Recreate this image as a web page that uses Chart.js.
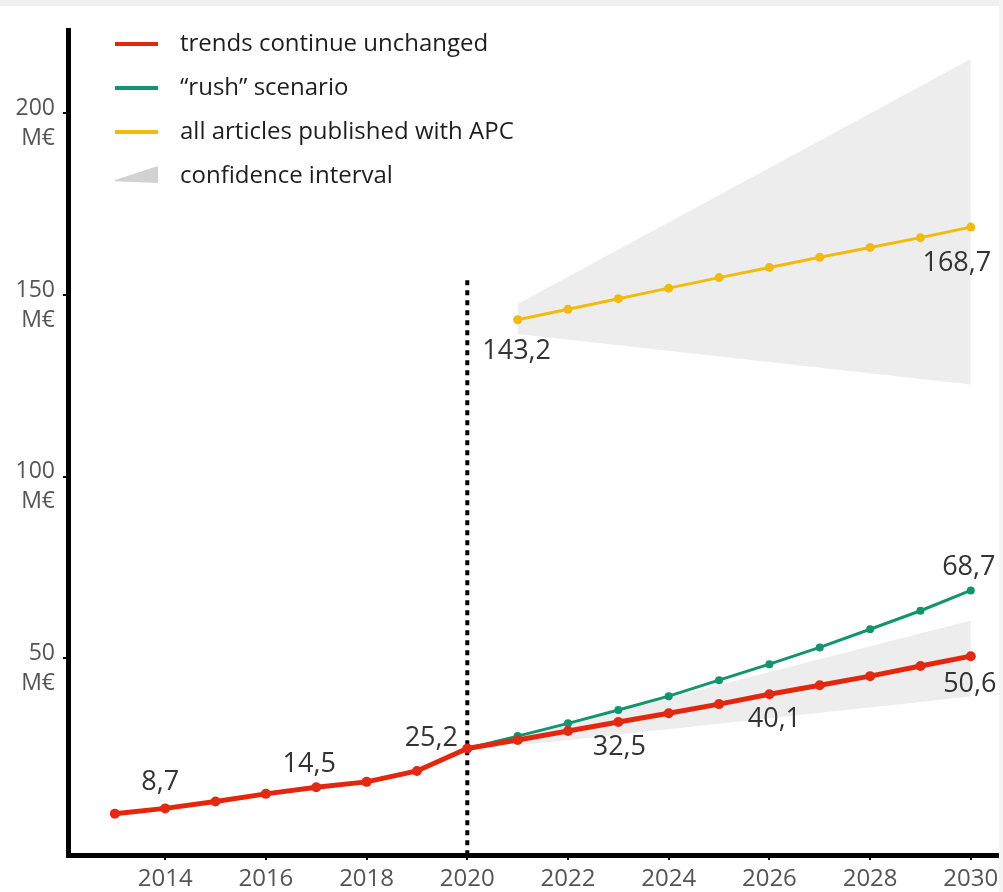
<!DOCTYPE html>
<html>
<head>
    <title>APC spending projection</title>
    <script src="https://cdn.jsdelivr.net/npm/chart.js"></script>
    <style>
        body { margin: 0; background: #fff; font-family: "Open Sans", Arial, sans-serif; }
        .wrap { position: relative; width: 1003px; height: 892px; background: #fff; overflow: hidden; }
        .topbar { position: absolute; left: 0; top: 0; width: 1003px; height: 6px; background: #f0f0f0; }
        .rightbar { position: absolute; right: 0; top: 0; width: 4px; height: 892px; background: #f3f3f3; }
        .chart-container { position: absolute; left: 0; top: 0; width: 1003px; height: 892px; }
        .legend { position: absolute; left: 115px; top: 25px; }
        .row { position: relative; height: 44px; font-size: 24px; color: #1e1e1e; }
        .row span.txt { position: absolute; left: 65px; top: 0; line-height: 34px; white-space: nowrap; }
        .row span.sw { position: absolute; left: 0; top: 17px; width: 43px; height: 4px; }
        .row span.wedge { position: absolute; left: 0; top: 9px; width: 43px; height: 17px; background: #d2d2d2;
            clip-path: polygon(0 82%, 100% 0, 100% 100%, 0 90%); }
    </style>
</head>
<body>
<div class="wrap">
    <div class="chart-container"><canvas id="apcChart"></canvas></div>
    <div class="topbar"></div>
    <div class="rightbar"></div>
    <div class="legend">
        <div class="row"><span class="sw" style="background:#e3260e"></span><span class="txt">trends continue unchanged</span></div>
        <div class="row"><span class="sw" style="background:#13946e"></span><span class="txt">“rush” scenario</span></div>
        <div class="row"><span class="sw" style="background:#f1bb0c"></span><span class="txt">all articles published with APC</span></div>
        <div class="row"><span class="wedge"></span><span class="txt">confidence interval</span></div>
    </div>
</div>

<script>
    // M€ per year
    const redYears = [2013, 2014, 2015, 2016, 2017, 2018, 2019, 2020, 2021, 2022, 2023, 2024, 2025, 2026, 2027, 2028, 2029, 2030];
    const redValues = [7.2, 8.7, 10.6, 12.7, 14.5, 16.0, 19.0, 25.2, 27.5, 30.0, 32.5, 34.9, 37.4, 40.1, 42.6, 45.1, 47.9, 50.6];

    const greenYears = [2020, 2021, 2022, 2023, 2024, 2025, 2026, 2027, 2028, 2029, 2030];
    const greenValues = [25.2, 28.6, 32.1, 35.8, 39.6, 44.0, 48.4, 53.0, 58.0, 63.1, 68.7];

    const yellowYears = [2021, 2022, 2023, 2024, 2025, 2026, 2027, 2028, 2029, 2030];
    const yellowValues = [143.2, 146.1, 149.0, 151.9, 154.8, 157.6, 160.4, 163.1, 165.8, 168.7];

    // confidence intervals (start and end of the wedge)
    const bandYears = [2021, 2030];
    const redBandLow = [26.0, 39.5];
    const redBandHigh = [28.5, 60.4];
    const yellowBandLow = [139.3, 125.4];
    const yellowBandHigh = [147.5, 215.0];

    // the 2020 separator
    const splitYear = 2020;
    const splitRange = [-4.2, 155];

    const xTicks = [2014, 2016, 2018, 2020, 2022, 2024, 2026, 2028, 2030];
    const yTicks = [50, 100, 150, 200];

    // which points get a value written next to them
    const valueLabels = [
        { series: 'red', year: 2014, dx: -5, dy: -26 },
        { series: 'red', year: 2017, dx: -7, dy: -23 },
        { series: 'red', year: 2020, dx: -36, dy: -10 },
        { series: 'red', year: 2023, dx: 1, dy: 25 },
        { series: 'red', year: 2026, dx: 5, dy: 25 },
        { series: 'red', year: 2030, dx: -1, dy: 28 },
        { series: 'green', year: 2030, dx: -2, dy: -23 },
        { series: 'yellow', year: 2021, dx: -1, dy: 32 },
        { series: 'yellow', year: 2030, dx: -14, dy: 36 }
    ];

    const pts = (xs, ys) => xs.map((x, i) => ({ x: x, y: ys[i] }));
    const seriesData = {
        red: pts(redYears, redValues),
        green: pts(greenYears, greenValues),
        yellow: pts(yellowYears, yellowValues)
    };

    const labelPlugin = {
        id: 'valueLabels',
        afterDatasetsDraw(chart) {
            const c = chart.ctx, xs = chart.scales.x, ys = chart.scales.y;
            c.save();
            c.font = '27px "Open Sans", Arial, sans-serif';
            c.fillStyle = '#333';
            c.textAlign = 'center';
            c.textBaseline = 'middle';
            valueLabels.forEach(l => {
                const p = seriesData[l.series].find(d => d.x === l.year);
                const px = xs.getPixelForValue(p.x) + l.dx;
                const py = ys.getPixelForValue(p.y) + l.dy;
                c.fillText(String(p.y).replace('.', ','), px, py);
            });
            c.restore();
        }
    };

    const band = (low, high) => [
        { data: pts(bandYears, low), borderWidth: 0, pointRadius: 0, fill: false, order: 10 },
        { data: pts(bandYears, high), borderWidth: 0, pointRadius: 0, fill: '-1', backgroundColor: '#ededed', order: 10 }
    ];

    const ctx = document.getElementById('apcChart').getContext('2d');
    const chart = new Chart(ctx, {
        type: 'line',
        data: {
            datasets: [
                ...band(redBandLow, redBandHigh),
                ...band(yellowBandLow, yellowBandHigh),
                {
                    data: pts([splitYear, splitYear], splitRange),
                    borderColor: '#000', borderWidth: 4, borderDash: [5, 5],
                    pointRadius: 0, fill: false, order: 5
                },
                {
                    data: seriesData.yellow, borderColor: '#f1bb0c', backgroundColor: '#f1bb0c',
                    borderWidth: 3, pointRadius: 4.5, pointBorderWidth: 0, order: 3
                },
                {
                    data: seriesData.green, borderColor: '#13946e', backgroundColor: '#13946e',
                    borderWidth: 3, pointRadius: 4, pointBorderWidth: 0, order: 2
                },
                {
                    data: seriesData.red, borderColor: '#e3260e', backgroundColor: '#e02a14',
                    borderWidth: 5, pointRadius: 5, pointBorderWidth: 0, order: 1
                }
            ]
        },
        options: {
            responsive: true,
            maintainAspectRatio: false,
            animation: false,
            layout: { padding: { top: 30, right: 5, left: 0, bottom: 0 } },
            plugins: { legend: { display: false }, tooltip: { enabled: false } },
            elements: { line: { tension: 0 } },
            scales: {
                x: {
                    type: 'linear',
                    min: 2012.07,
                    max: 2030.54,
                    afterBuildTicks: s => { s.ticks = xTicks.map(v => ({ value: v })); },
                    afterFit: s => { s.height = 37; s.paddingLeft = 0; s.paddingRight = 0; },
                    border: { color: '#000', width: 5 },
                    grid: { drawOnChartArea: false, color: '#000', lineWidth: 2, tickLength: 5 },
                    ticks: {
                        autoSkip: false, maxRotation: 0, padding: 5,
                        color: '#555', font: { family: '"Open Sans", Arial, sans-serif', size: 24 },
                        callback: v => String(v)
                    }
                },
                y: {
                    min: -4.13,
                    max: 222.95,
                    afterBuildTicks: s => { s.ticks = yTicks.map(v => ({ value: v })); },
                    afterFit: s => { s.width = 68; s.paddingTop = 0; s.paddingBottom = 0; },
                    border: { color: '#000', width: 5 },
                    grid: { drawOnChartArea: false, color: '#000', lineWidth: 2, tickLength: 5 },
                    ticks: {
                        padding: 8, labelOffset: 10,
                        color: '#555', font: { family: '"Open Sans", Arial, sans-serif', size: 23, lineHeight: 1.3 },
                        callback: v => [String(v), 'M€']
                    }
                }
            }
        },
        plugins: [labelPlugin]
    });
</script>
</body>
</html>
